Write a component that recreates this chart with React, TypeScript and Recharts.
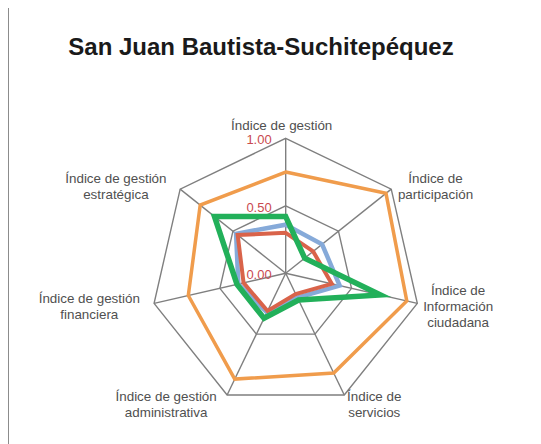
import { RadarChart, Radar, PolarGrid, PolarAngleAxis, PolarRadiusAxis } from 'recharts'

const categories = [
  'Índice de gestión',
  'Índice de participación',
  'Índice de Información ciudadana',
  'Índice de servicios',
  'Índice de gestión administrativa',
  'Índice de gestión financiera',
  'Índice de gestión estratégica',
]

// how each category label wraps in the picture
const labelLines = [
  ['Índice de gestión'],
  ['Índice de', 'participación'],
  ['Índice de', 'Información', 'ciudadana'],
  ['Índice de', 'servicios'],
  ['Índice de gestión', 'administrativa'],
  ['Índice de gestión', 'financiera'],
  ['Índice de gestión', 'estratégica'],
]

const serieNaranja = [0.75, 0.95, 0.92, 0.82, 0.87, 0.74, 0.81]
const serieAzul = [0.36, 0.345, 0.41, 0.2, 0.32, 0.36, 0.47]
const serieRoja = [0.3, 0.26, 0.35, 0.17, 0.31, 0.32, 0.455]
const serieVerde = [0.42, 0.18, 0.72, 0.22, 0.37, 0.37, 0.675]

const radiusTicks = [0, 0.5, 1]

const data = categories.map((name, i) => ({
  name,
  naranja: serieNaranja[i],
  azul: serieAzul[i],
  roja: serieRoja[i],
  verde: serieVerde[i],
}))

// label offsets from each tick point (first line centre)
const labelOffsets = [
  { dx: -4, dy: -5 },
  { dx: 38, dy: -6 },
  { dx: 33, dy: -15 },
  { dx: 26.5, dy: -6 },
  { dx: -57.5, dy: -6 },
  { dx: -57, dy: -7 },
  { dx: -58, dy: -6 },
]

const font = '"Liberation Sans", Arial, Helvetica, sans-serif'

function AngleTick(props: any) {
  const { x, y, payload } = props
  const idx = categories.indexOf(payload.value)
  const lines = labelLines[idx] || [payload.value]
  const off = labelOffsets[idx] || { dx: 0, dy: 0 }
  return (
    <text
      x={x + off.dx}
      y={y + off.dy}
      textAnchor="middle"
      fill="#505050"
      fontSize={13.4}
      fontFamily={font}
    >
      {lines.map((line, i) => (
        <tspan key={i} x={x + off.dx} y={y + off.dy + i * 16.3} dominantBaseline="central">
          {line}
        </tspan>
      ))}
    </text>
  )
}

function RadiusTick(props: any) {
  const { x, y, payload } = props
  return (
    <text
      x={x - 14}
      y={y + 1.5}
      textAnchor="end"
      dominantBaseline="central"
      fill="#c94a4f"
      fontSize={13}
      fontFamily={font}
    >
      {Number(payload.value).toFixed(2)}
    </text>
  )
}

export default function App() {
  return (
    <div style={{ position: 'relative', width: 533, height: 436 }}>
      <div
        style={{
          position: 'absolute',
          left: 0,
          top: -1,
          width: 533,
          height: 437,
          boxSizing: 'border-box',
          borderLeft: '1.5px solid #8c8c8c',
          borderTop: '1.5px solid #8c8c8c',
        }}
      />
      <div
        style={{
          position: 'absolute',
          left: 53,
          top: 27,
          width: 400,
          textAlign: 'center',
          fontFamily: font,
          fontWeight: 'bold',
          fontSize: 24,
          lineHeight: 1,
          color: '#1a1a1a',
          whiteSpace: 'nowrap',
        }}
      >
        San Juan Bautista-Suchitepéquez
      </div>
      <div style={{ position: 'absolute', left: 0, top: 0 }}>
        <RadarChart
          width={533}
          height={436}
          data={data}
          cx={277.7}
          cy={265.3}
          outerRadius={135}
          margin={{ top: 0, right: 0, bottom: 0, left: 0 }}
        >
          <PolarGrid gridType="polygon" stroke="#7f7f7f" strokeWidth={1.4} />
          <PolarAngleAxis
            dataKey="name"
            tick={<AngleTick />}
            tickLine={false}
            axisLine={false}
          />
          <PolarRadiusAxis
            angle={90}
            domain={[0, 1]}
            ticks={radiusTicks as any}
            tickCount={3}
            axisLine={false}
            tick={<RadiusTick />}
          />
          <Radar dataKey="naranja" stroke="#f09c4c" strokeWidth={3.5} fill="none" fillOpacity={0} dot={false} isAnimationActive={false} />
          <Radar dataKey="azul" stroke="#86aad9" strokeWidth={4.5} fill="none" fillOpacity={0} dot={false} isAnimationActive={false} />
          <Radar dataKey="roja" stroke="#d9634a" strokeWidth={4} fill="none" fillOpacity={0} dot={false} isAnimationActive={false} />
          <Radar dataKey="verde" stroke="#22b05a" strokeWidth={5.5} fill="none" fillOpacity={0} dot={false} isAnimationActive={false} />
        </RadarChart>
      </div>
    </div>
  )
}
